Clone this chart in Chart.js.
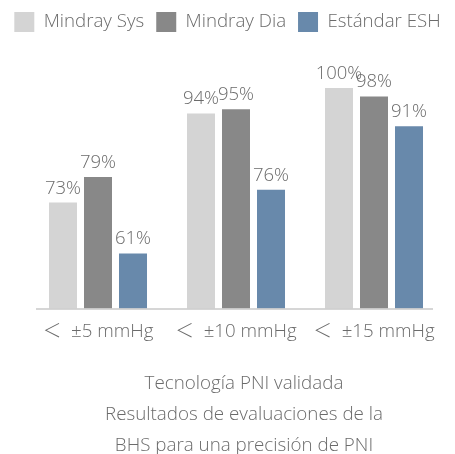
<!DOCTYPE html>
<html>
<head>
<meta charset="utf-8">
<script src="https://cdn.jsdelivr.net/npm/chart.js@4.4.1/dist/chart.umd.min.js"></script>
<style>
  html, body { margin: 0; padding: 0; background: #fff; }
  #wrap { width: 455px; height: 454px; }
</style>
</head>
<body>
<div id="wrap"><canvas id="bhs_chart" width="455" height="454"></canvas></div>
<script>
// datos
var categorias = ['＜  ±5 mmHg', '＜  ±10 mmHg', '＜  ±15 mmHg'];
var mindraySys = [73, 94, 100];
var mindrayDia = [79, 95, 98];
var estandarESH = [61, 76, 91];
var leyenda = ['Mindray Sys', 'Mindray Dia', 'Estándar ESH'];
var pie = ['Tecnología PNI validada', 'Resultados de evaluaciones de la', 'BHS para una precisión de PNI'];

var fuente = "'Open Sans', 'Noto Sans CJK JP', 'Noto Sans', sans-serif";
var gris = '#6b6b6b';
Chart.defaults.font.family = fuente;
Chart.defaults.font.weight = '300';
Chart.defaults.color = gris;

// altura fija para la leyenda
var espacioLeyenda = {
  id: 'espacioLeyenda',
  beforeInit: function(chart) {
    if (!chart.legend) return;
    var fit = chart.legend.fit;
    chart.legend.fit = function() {
      fit.bind(chart.legend)();
      this.height = 88;
    };
  }
};

// etiquetas de valores, linea base y texto inferior
var extras = {
  id: 'extras',
  afterDatasetsDraw: function(chart) {
    var ctx = chart.ctx;
    var area = chart.chartArea;
    ctx.save();
    // linea base
    ctx.strokeStyle = '#c9c9c9';
    ctx.lineWidth = 1.5;
    ctx.beginPath();
    ctx.moveTo(area.left + 7, area.bottom + 0.5);
    ctx.lineTo(area.right - 10, area.bottom + 0.5);
    ctx.stroke();
    // valores
    ctx.fillStyle = gris;
    ctx.font = '300 18.5px ' + fuente;
    ctx.textAlign = 'center';
    ctx.textBaseline = 'alphabetic';
    chart.data.datasets.forEach(function(ds, i) {
      chart.getDatasetMeta(i).data.forEach(function(bar, j) {
        ctx.fillText(ds.data[j] + '%', bar.x, bar.y - 9);
      });
    });
    // texto inferior
    ctx.font = '300 18.8px ' + fuente;
    var cx = (area.left + area.right) / 2 + 8;
    pie.forEach(function(t, k) {
      ctx.fillText(t, cx, 389 + k * 31);
    });
    ctx.restore();
  }
};

var ctx = document.getElementById('bhs_chart').getContext('2d');
var chart = new Chart(ctx, {
  type: 'bar',
  data: {
    labels: categorias,
    datasets: [
      { label: leyenda[0], data: mindraySys, backgroundColor: '#d4d4d4' },
      { label: leyenda[1], data: mindrayDia, backgroundColor: '#888888' },
      { label: leyenda[2], data: estandarESH, backgroundColor: '#6889ab' }
    ]
  },
  options: {
    responsive: false,
    animation: false,
    layout: { padding: { left: 0, right: 0, top: 0, bottom: 99 } },
    datasets: {
      bar: { categoryPercentage: 0.761, barPercentage: 0.8 }
    },
    scales: {
      x: {
        grid: { display: false, drawTicks: false },
        border: { display: false },
        ticks: { color: gris, padding: 12, maxRotation: 0, font: { size: 18.7, weight: '300' } }
      },
      y: {
        position: 'left',
        min: 48,
        max: 100,
        grid: { display: false },
        border: { display: false },
        ticks: { display: false },
        afterFit: function(scale) { scale.width = 29; }
      },
      yDer: {
        position: 'right',
        display: true,
        grid: { display: false },
        border: { display: false },
        ticks: { display: false },
        afterFit: function(scale) { scale.width = 12; }
      }
    },
    plugins: {
      legend: {
        position: 'top',
        labels: {
          boxWidth: 20,
          boxHeight: 20,
          padding: 12,
          color: gris,
          font: { size: 18.7, weight: '300' }
        }
      },
      tooltip: { enabled: false }
    }
  },
  plugins: [espacioLeyenda, extras]
});
</script>
</body>
</html>
